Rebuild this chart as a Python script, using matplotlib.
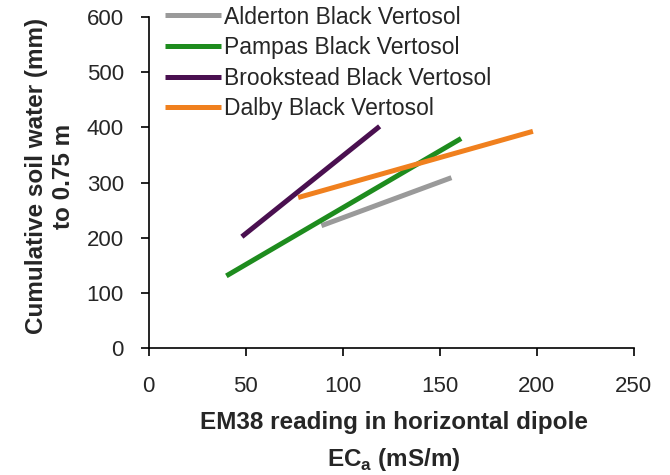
import matplotlib.pyplot as plt

# line end points (EC_a in mS/m, soil water in mm)
soils = ['Alderton Black Vertosol', 'Pampas Black Vertosol',
         'Brookstead Black Vertosol', 'Dalby Black Vertosol']
ec_a = [[89, 156], [40, 161], [48, 119], [77, 198]]
water = [[222, 309], [131, 380], [202, 402], [273, 393]]
colours = ['#9a9a9a', '#1e8c1e', '#4a1050', '#f0801e']

x_ticks = [0, 50, 100, 150, 200, 250]
y_ticks = [0, 100, 200, 300, 400, 500, 600]

plt.rcParams['font.family'] = ['Liberation Sans', 'DejaVu Sans']
txt = '#262626'

fig = plt.figure(figsize=(6.7, 4.75), dpi=100)
ax = fig.add_axes([0.222, 0.267, 0.724, 0.697])

for name, x, y, c in zip(soils, ec_a, water, colours):
    ax.plot(x, y, color=c, lw=3.6, solid_capstyle='butt', label=name)

ax.set_xlim(0, 250)
ax.set_ylim(0, 600)
ax.set_xticks(x_ticks)
ax.set_yticks(y_ticks)
ax.tick_params(labelsize=16, length=6, width=1.2, direction='out',
               labelcolor=txt)
ax.tick_params(axis='x', pad=14)
ax.tick_params(axis='y', pad=12)
for s in ['top', 'right']:
    ax.spines[s].set_visible(False)
for s in ['left', 'bottom']:
    ax.spines[s].set_linewidth(1.2)

ax.set_xlabel('EM38 reading in horizontal dipole\nEC$_\\mathregular{a}$ (mS/m)',
              fontsize=17.5, fontweight='bold', linespacing=1.6, color=txt)
ax.xaxis.set_label_coords(0.505, -0.19)
ax.set_ylabel('Cumulative soil water (mm)\nto 0.75 m',
              fontsize=17.5, fontweight='bold', linespacing=1.2, color=txt)
ax.yaxis.set_label_coords(-0.153, 0.52)

leg = ax.legend(loc='upper left', bbox_to_anchor=(0.033, 1.035),
                frameon=False, fontsize=16.5, handlelength=2.45,
                handletextpad=0.13, labelspacing=0.33, borderpad=0,
                borderaxespad=0)
for t in leg.get_texts():
    t.set_color(txt)

fig.savefig('out.png', dpi=100)
